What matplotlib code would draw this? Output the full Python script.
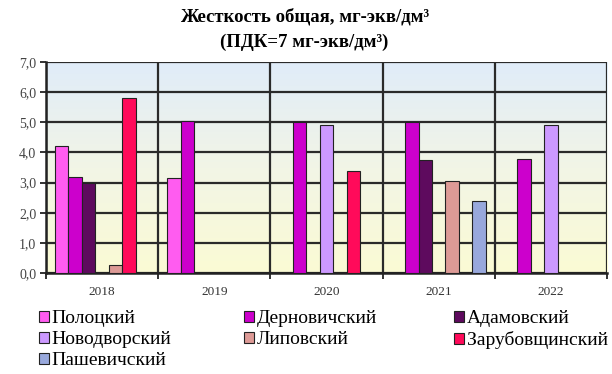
import numpy as np
import matplotlib.pyplot as plt
from matplotlib.colors import LinearSegmentedColormap

plt.rcParams['font.family'] = ['Liberation Serif', 'DejaVu Serif']

years = ['2018', '2019', '2020', '2021', '2022']
sites = ['Полоцкий', 'Дерновичский', 'Адамовский', 'Новодворский',
         'Липовский', 'Зарубовщинский', 'Пашевичский']
colors = ['#ff5cf0', '#cc00cc', '#5e0a5e', '#cc99ff', '#dd9a96', '#ff0a5a', '#98a8dc']

# hardness by site, one value per year (nan = no sample)
polotsky = [4.2, 3.15, np.nan, np.nan, np.nan]
dernovichi = [3.2, 5.05, 5.0, 5.0, 3.8]
adamovsky = [3.0, np.nan, np.nan, 3.75, np.nan]
novodvorsky = [np.nan, np.nan, 4.9, np.nan, 4.9]
lipovsky = [0.25, np.nan, np.nan, 3.05, np.nan]
zarubovshchina = [5.8, np.nan, 3.4, np.nan, np.nan]
pashevichi = [np.nan, np.nan, np.nan, 2.4, np.nan]
series = [polotsky, dernovichi, adamovsky, novodvorsky, lipovsky, zarubovshchina, pashevichi]

fig = plt.figure(figsize=(6.12, 3.74), dpi=100)
ax = fig.add_axes([0.075, 0.270, 0.917, 0.564])

# blue-to-yellow background
bg = LinearSegmentedColormap.from_list('bg', ['#fbfbd4', '#f2f5e6', '#e0ecf9'])
ax.imshow(np.linspace(0, 1, 256).reshape(-1, 1), cmap=bg, aspect='auto',
          extent=[0, 5, 0, 7], origin='lower', zorder=0)

x = np.arange(len(years)) + 0.5
w = 0.12
handles = []
for j, (name, vals, c) in enumerate(zip(sites, series, colors)):
    b = ax.bar(x + (j - 3) * w, vals, width=w, color=c, edgecolor='#222222',
               linewidth=0.8, label=name, zorder=3)
    handles.append(b)

ax.set_xlim(0, 5)
ax.set_ylim(0, 7)
ax.set_yticks(np.arange(0, 8))
ax.set_yticklabels([f'{v:.1f}'.replace('.', ',') for v in range(8)], fontsize=10, color='#444444')
ax.set_xticks(np.arange(0, 6))
ax.set_xticklabels([])
ax.set_xticks(x, minor=True)
ax.set_xticklabels(years, minor=True, fontsize=9.5, color='#333333')
ax.tick_params(axis='x', which='minor', length=0, pad=9)
ax.tick_params(axis='x', which='major', length=4, width=1.3, color='#222222')
ax.tick_params(axis='y', length=4, width=1.3, color='#222222', pad=3)
ax.grid(True, which='major', color='#2a2a2a', linewidth=1.6, zorder=1)
ax.set_axisbelow(True)
for s in ['top', 'right']:
    ax.spines[s].set_visible(False)
for s in ['left', 'bottom']:
    ax.spines[s].set_color('#222222')
    ax.spines[s].set_linewidth(1.8)

fig.text(0.497, 0.955, 'Жесткость общая, мг-экв/дм³', ha='center', va='center',
         fontsize=13.5, fontweight='bold')
fig.text(0.497, 0.888, '(ПДК=7 мг-экв/дм³)', ha='center', va='center',
         fontsize=13.5, fontweight='bold')

# three legend columns, filled row by row
columns = [[0, 3, 6], [1, 4], [2, 5]]
col_x = [0.064, 0.399, 0.742]
for idx, cx in zip(columns, col_x):
    fig.legend([handles[i] for i in idx], [sites[i] for i in idx],
               loc='upper left', bbox_to_anchor=(cx, 0.170),
               frameon=False, fontsize=14, handlelength=0.5, handleheight=0.5,
               handletextpad=0.15, labelspacing=0.2,
               borderaxespad=0, borderpad=0)

fig.savefig('out.png', dpi=100)
